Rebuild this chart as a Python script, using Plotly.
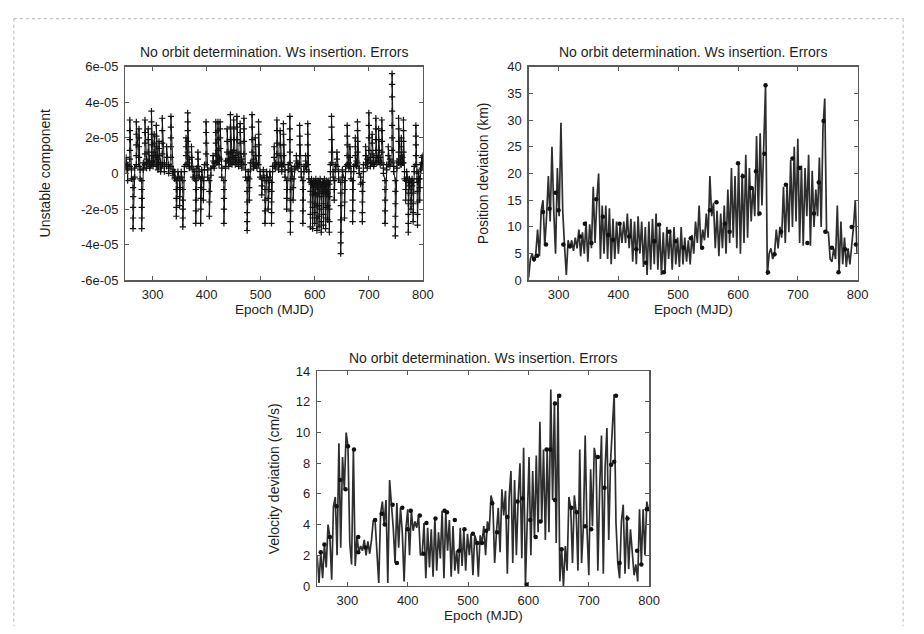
import plotly.graph_objects as go

# ---------------- DATA ----------------
title_text = "No orbit determination. Ws insertion. Errors"
x_title = "Epoch (MJD)"
y_titles = ["Unstable component", "Position deviation (km)", "Velocity deviation (cm/s)"]

epoch_ticks = [300, 400, 500, 600, 700, 800]
unstable_tickvals = [-6e-05, -4e-05, -2e-05, 0, 2e-05, 4e-05, 6e-05]
unstable_ticktext = ["-6e-05", "-4e-05", "-2e-05", "0", "2e-05", "4e-05", "6e-05"]
position_ticks = [0, 5, 10, 15, 20, 25, 30, 35, 40]
velocity_ticks = [0, 2, 4, 6, 8, 10, 12, 14]

# unstable component, (epoch, samples in units of 1e-5)
unstable_segments = [
    (251, [0.6, 0.2, 0.9, 0.4]), (254, [0.3, -0.4, 0.5]),
    (258, [0.4, 0.8, 1.3, 1.9, 2.4, 3.0]), (261, [0.2, -0.3]),
    (264, [-0.3, -0.8, -1.3, -1.9, -2.5, -3.1]), (267, [-0.2, 0.3]),
    (270, [0.5, 1.0, 1.6, 2.2, 2.9]), (275, [0.4, 0.9, 1.5, 2.0, 2.5]),
    (277, [0.2, -0.3]), (280, [-0.4, -0.9, -1.4, -1.9, -2.5, -3.1]),
    (283, [0.3, 0.6, 0.2]), (286, [0.5, 1.1, 1.7, 2.3, 3.0]),
    (289, [0.6, 0.3, 0.8]), (292, [0.6, 1.2, 1.9, 2.5]),
    (295, [0.4, 0.7, 0.3]), (298, [0.5, 1.0, 1.6, 2.2, 2.9, 3.5]),
    (301, [0.7, 0.4, 1.0]), (303, [0.6, 1.2, 1.7, 2.2]),
    (307, [0.4, 0.9, 1.5, 2.1, 2.7]), (310, [0.5, 0.2, 0.8]),
    (312, [0.5, 1.0, 1.4, 1.8]), (315, [0.3, 0.6, 0.1]),
    (318, [0.5, 1.1, 1.7, 2.4, 3.1]), (322, [0.4, 0.1, 0.6]),
    (326, [0.4, 0.9, 1.5]), (330, [0.3, 0.0, 0.5]),
    (334, [0.4, 0.9, 1.5, 2.0, 2.6, 3.2]), (338, [0.2, -0.1, 0.1]),
    (341, [-0.2, 0.1, -0.3]), (344, [-0.4, -0.9, -1.4, -1.9, -2.4]),
    (347, [-0.2, 0.1]), (350, [-0.3, -0.8, -1.3, -1.8]),
    (353, [-0.2, 0.1]), (356, [-0.4, -0.9, -1.5, -2.0, -2.5, -3.0]),
    (359, [0.1, 0.4]), (362, [0.5, 1.0, 1.5, 2.0]),
    (365, [0.6, 1.2, 1.8, 2.4, 2.9, 3.4]), (368, [0.4, 0.8, 0.3]),
    (372, [0.4, 0.9, 1.5]), (375, [0.2, -0.2]), (378, [0.1, -0.3]),
    (380, [-0.4, -0.9, -1.5, -2.1, -2.8]), (382, [-0.1, 0.3]),
    (384, [0.4, 0.8, 1.2]), (386, [0.1, -0.2]),
    (389, [-0.3, -0.8, -1.4, -2.0, -2.8]), (391, [-0.2, 0.2]),
    (394, [-0.4, -0.9, -1.5]), (396, [0.2, 0.5]),
    (399, [0.5, 1.1, 1.7, 2.3, 2.9]), (402, [0.2, -0.2]),
    (405, [-0.4, -1.0, -1.6, -2.4]), (408, [-0.1, 0.3]),
    (412, [0.4, 0.7, 1.0]), (414, [0.3, 0.6]),
    (417, [0.6, 1.1, 1.7, 2.3, 2.9]), (419, [0.6, 1.0]),
    (421, [0.7, 1.3, 1.9, 2.4, 2.9]), (423, [0.5, 0.9]),
    (425, [0.8, 1.4, 2.0, 2.5, 2.9]), (428, [0.3, -0.2]),
    (432, [-0.4, -0.9, -1.4, -2.0, -2.8]), (435, [0.3, 0.7, 0.4]),
    (438, [0.7, 1.2, 1.8, 2.5]), (441, [0.8, 0.4, 1.1]),
    (444, [0.6, 1.2, 1.9, 2.6, 3.3]), (447, [0.9, 0.5, 1.2]),
    (450, [0.7, 1.3, 1.9, 2.5, 3.0]), (453, [0.8, 0.5, 1.0]),
    (456, [0.6, 1.2, 1.9, 2.6, 3.2]), (459, [0.7, 0.4, 0.9]),
    (462, [0.6, 1.1, 1.7, 2.3, 2.8]), (465, [0.5, 0.3, 0.8]),
    (469, [0.5, 1.1, 1.8, 2.5, 3.1]), (472, [0.2, -0.2]),
    (475, [-0.4, -1.0, -1.6, -2.2, -2.7, -3.2]), (477, [-0.2, 0.1]),
    (479, [-0.3, -0.8, -1.5]), (481, [0.2, 0.6]),
    (484, [0.6, 1.2, 1.9, 2.6, 3.3]), (487, [0.4, 0.8, 0.3]),
    (490, [0.5, 1.0, 1.5, 2.0]), (493, [0.3, 0.6]),
    (496, [0.5, 1.0, 1.6, 2.2, 2.9]), (499, [0.1, -0.2]),
    (502, [-0.3, -0.7, -1.2]), (505, [-0.1, 0.2]),
    (508, [-0.4, -0.9, -1.5, -2.1, -2.8]), (511, [-0.2, 0.1]),
    (514, [-0.4, -0.9, -1.4, -2.0]), (517, [-0.2, 0.1]),
    (520, [-0.5, -1.0, -1.6, -2.2, -2.8]), (522, [0.1, 0.4]),
    (525, [0.4, 0.9, 1.5]), (527, [0.3, 0.6]),
    (530, [0.5, 1.1, 1.7, 2.4, 3.0]), (533, [0.5, 0.2]),
    (536, [0.5, 1.0, 1.6, 2.4]), (539, [0.4, 0.1, 0.6]),
    (542, [0.5, 1.0, 1.6, 2.2, 2.8]), (545, [0.2, -0.2]),
    (548, [-0.4, -0.9, -1.4, -2.0]), (551, [0.2, 0.5]),
    (554, [0.6, 1.2, 1.9, 2.5, 3.2]), (555, [-0.3, -0.9, -1.5, -2.1, -2.7, -3.3]),
    (557, [0.1, 0.3]), (560, [-0.3, -0.8, -1.5]),
    (563, [0.2, 0.4]), (566, [0.4, 0.7, 1.0]), (569, [0.3, 0.6]),
    (572, [0.5, 1.0, 1.6, 2.1, 2.7]), (575, [0.1, -0.2]),
    (578, [-0.4, -0.9, -1.5, -2.1, -2.8]), (580, [0.1, 0.4]),
    (583, [0.4, 0.7, 1.0]), (585, [0.2, 0.5]),
    (587, [0.5, 1.0, 1.6, 2.2, 2.8]), (589, [0.1, -0.3]),
    (592, [-0.5, -1.0, -1.6, -2.3, -3.0]), (594, [-0.3, -0.6]),
    (596, [-0.6, -1.2, -1.9, -2.5, -3.1]), (598, [-0.4, -0.8]),
    (600, [-0.5, -1.1, -1.7, -2.2, -2.8]), (602, [-0.3, -0.7]),
    (604, [-0.6, -1.2, -1.8, -2.5, -3.2]), (606, [-0.4, -0.9]),
    (608, [-0.5, -1.1, -1.8, -2.4, -3.0]), (610, [-0.3, -0.8]),
    (612, [-0.6, -1.3, -2.0, -2.7, -3.3]), (614, [-0.5, -1.0]),
    (616, [-0.5, -1.1, -1.7, -2.3, -2.9]), (618, [-0.3, -0.9]),
    (620, [-0.6, -1.2, -1.9, -2.5, -3.1]), (622, [-0.4, -1.0]),
    (624, [-0.5, -1.1, -1.8, -2.6]), (626, [-0.4, -0.9]),
    (627, [-0.6, -1.3, -2.0, -2.7, -3.3]), (629, [0.1, 0.5]),
    (631, [0.6, 1.2, 1.9, 2.6, 3.2]), (634, [0.1, -0.2]),
    (636, [-0.4, -0.9, -1.5]), (638, [0.2, 0.5]),
    (641, [0.4, 0.8, 1.2]), (644, [0.1, -0.3]),
    (648, [-0.5, -1.1, -1.8, -2.6, -3.3, -3.9, -4.5]), (651, [-0.2, 0.2]),
    (655, [-0.4, -0.9, -1.6, -2.5]), (657, [0.1, 0.4]),
    (660, [0.5, 1.0, 1.6, 2.1, 2.7]), (663, [0.3, 0.6]),
    (665, [0.4, 0.9, 1.5]), (667, [0.1, -0.3]),
    (670, [-0.4, -0.9, -1.5, -2.1, -2.7]), (672, [0.1, 0.4]),
    (675, [0.5, 1.0, 1.5, 2.0]), (677, [0.4, 0.7]),
    (679, [0.6, 1.2, 1.8, 2.4, 2.9]), (682, [0.3, 0.0]),
    (685, [-0.2, -0.6]), (688, [-0.5, -1.0, -1.6, -2.2, -2.7]),
    (690, [0.1, 0.5]), (694, [0.5, 1.0, 1.5]), (697, [0.6, 0.3, 0.8]),
    (700, [0.7, 1.3, 2.0, 2.7, 3.4]), (703, [0.6, 0.9, 0.4]),
    (706, [0.6, 1.1, 1.7, 2.2]), (709, [0.5, 0.9, 0.4]),
    (713, [0.7, 1.3, 1.9, 2.5, 3.1]), (715, [0.6, 1.0]),
    (718, [0.7, 1.3, 1.9, 2.5]), (721, [0.5, 0.9]),
    (724, [0.6, 1.2, 1.8, 2.4, 3.0]), (727, [0.3, 0.0]),
    (730, [-0.4, -0.9, -1.5, -2.1, -2.8]), (733, [0.2, 0.5]),
    (736, [0.5, 1.0, 1.5]), (739, [0.4, 0.8]),
    (743, [0.6, 1.3, 2.0, 2.7, 3.5, 4.3, 5.0, 5.6]), (746, [0.4, 0.1]),
    (749, [-0.4, -1.0, -1.7, -2.4, -3.0, -3.5]), (752, [0.3, 0.7]),
    (755, [0.6, 1.2, 1.8, 2.5, 3.1]), (758, [0.5, 0.8]),
    (760, [0.5, 1.0, 1.5, 2.0]), (762, [0.6, 0.9]),
    (764, [0.6, 1.2, 1.8, 2.4, 3.0]), (766, [0.1, -0.3]),
    (768, [-0.4, -0.9, -1.5]), (770, [-0.2, 0.1]),
    (773, [-0.5, -1.1, -1.7, -2.3, -2.8, -3.3]), (775, [-0.3, -0.7]),
    (778, [-0.4, -0.9, -1.5, -2.0]), (780, [-0.3, -0.7]),
    (782, [-0.5, -1.1, -1.7, -2.2, -2.7]), (784, [0.1, 0.4]),
    (787, [0.5, 1.0, 1.6, 2.1, 2.7]), (789, [0.1, -0.3]),
    (790, [-0.5, -1.0, -1.6, -2.3, -2.9]), (792, [-0.3, 0.0]),
    (794, [-0.3, -0.8, -1.5]), (796, [0.2, 0.5]),
    (798, [0.3, 0.6, 0.9]), (800, [0.5, 1.0]),
]

# position deviation (epoch, km)
position_data = [
    (250, 0.5), (253, 4), (256, 5), (259, 3.5), (262, 5), (265, 9.5), (268, 4.5), (271, 13),
    (274, 15), (277, 6.5), (280, 12), (283, 19.5), (286, 11), (289, 25), (292, 13), (295, 5),
    (298, 21), (301, 12), (304, 29.5), (307, 13), (310, 6.5), (313, 1), (316, 7.5), (319, 6),
    (322, 7.5), (325, 5.5), (328, 8), (331, 6), (334, 9.5), (337, 4.5), (340, 9), (343, 5),
    (346, 11), (349, 3.5), (352, 10.5), (355, 6), (358, 17.5), (361, 7), (364, 15), (367, 20),
    (370, 4), (373, 14), (376, 5), (379, 14), (382, 4), (385, 13.5), (388, 3), (391, 11.5),
    (394, 4), (397, 11), (400, 5), (403, 10.5), (406, 7), (409, 11), (412, 7), (415, 12.5),
    (418, 6), (421, 11.5), (424, 3.5), (427, 11), (430, 3), (433, 12), (436, 5), (439, 11),
    (442, 2.5), (445, 10), (448, 1), (451, 11), (454, 2), (457, 11.5), (460, 3), (463, 12.5),
    (466, 2), (469, 10), (472, 1), (475, 9), (478, 1.5), (481, 10), (484, 4), (487, 9.5),
    (490, 2), (493, 10), (496, 3), (499, 8), (502, 2.5), (505, 10), (508, 3), (511, 8),
    (514, 3.5), (517, 7.5), (520, 3), (523, 8.5), (526, 5), (529, 11), (532, 7), (535, 14),
    (538, 6), (541, 9.5), (544, 7.5), (547, 12.5), (550, 8), (553, 19.5), (556, 12), (559, 14.5),
    (562, 6), (565, 13), (568, 4.5), (571, 12.5), (574, 6), (577, 14), (580, 5), (583, 17),
    (586, 7), (589, 21), (592, 8), (595, 19.5), (598, 6), (601, 22), (604, 5), (607, 20),
    (610, 7), (613, 23.5), (616, 8), (619, 21), (622, 11), (625, 17.5), (628, 12), (631, 27),
    (634, 12), (637, 27.5), (640, 14), (643, 24), (646, 36.5), (649, 1), (652, 5), (655, 6),
    (658, 4), (661, 5), (664, 9.5), (667, 6), (670, 10), (673, 8), (676, 17.5), (679, 7),
    (682, 18), (685, 9), (688, 22.5), (691, 10), (694, 25), (697, 11), (700, 26.5), (703, 7),
    (706, 21.5), (709, 6.5), (712, 21), (715, 12), (718, 23.5), (721, 6.5), (724, 20.5), (727, 10),
    (730, 17), (733, 12), (736, 23), (739, 10), (742, 28.5), (745, 34), (748, 9), (751, 9),
    (754, 4), (757, 3.5), (760, 6), (763, 4), (766, 14), (769, 1.5), (772, 11), (775, 3),
    (778, 8), (781, 2.5), (784, 6), (787, 3), (790, 6.5), (793, 10), (796, 15), (799, 5),
]
position_marks = [
    (259, 4.0), (264, 4.6), (274, 12.8), (279, 6.7), (285, 13.4), (295, 16.4), (300, 13.1),
    (308, 6.7), (319, 6.4), (336, 8.2), (344, 10.6), (355, 7.0), (363, 15.2), (374, 11.9),
    (383, 8.5), (391, 7.6), (402, 10.6), (418, 8.2), (430, 5.8), (446, 3.3), (460, 7.3),
    (468, 10.4), (476, 1.5), (485, 9.1), (496, 7.3), (509, 6.1), (521, 7.9), (540, 6.1),
    (553, 13.1), (564, 14.6), (578, 10.6), (586, 9.1), (600, 21.9), (608, 19.5), (622, 17.3),
    (630, 20.4), (636, 12.5), (644, 23.7), (646, 36.5), (650, 1.5), (661, 4.9), (672, 9.1),
    (680, 17.9), (691, 22.8), (703, 21.0), (716, 7.0), (727, 12.5), (735, 18.3), (743, 29.8),
    (746, 9.1), (757, 6.1), (768, 1.5), (779, 5.8), (790, 10.0), (797, 6.7),
]

# velocity deviation (epoch, cm/s)
velocity_data = [
    (250, 2.0), (253, 0.2), (256, 2.2), (259, 0.5), (262, 2.7), (265, 1.2), (268, 4.0), (271, 3.2),
    (274, 0.4), (277, 5.2), (280, 5.8), (283, 2.0), (286, 9.3), (289, 2.5), (292, 8.4), (295, 6.3),
    (298, 10.0), (301, 9.1), (304, 2.8), (307, 1.4), (310, 8.9), (313, 1.3), (316, 3.2), (319, 2.2),
    (322, 2.6), (325, 2.3), (328, 3.0), (331, 2.0), (334, 2.9), (337, 2.1), (340, 3.0), (343, 4.3),
    (346, 4.2), (349, 2.0), (352, 0.2), (355, 4.7), (358, 5.5), (361, 4.0), (364, 5.6), (367, 0.2),
    (370, 6.9), (373, 5.3), (376, 3.8), (379, 1.5), (382, 5.4), (385, 2.5), (388, 5.1), (391, 3.5),
    (394, 0.3), (397, 3.7), (400, 5.0), (403, 2.0), (406, 4.9), (409, 3.6), (412, 4.2), (415, 3.8),
    (418, 4.6), (421, 2.0), (424, 2.1), (427, 4.1), (430, 0.5), (433, 3.8), (436, 1.2), (439, 3.7),
    (442, 0.6), (445, 4.4), (448, 1.0), (451, 3.5), (454, 1.8), (457, 4.9), (460, 0.5), (463, 4.8),
    (466, 2.3), (469, 4.3), (472, 0.6), (475, 3.9), (478, 1.0), (481, 2.3), (484, 0.8), (487, 3.8),
    (490, 1.3), (493, 3.6), (496, 1.0), (499, 3.4), (502, 2.0), (505, 3.4), (508, 0.7), (511, 3.3),
    (514, 2.9), (517, 0.6), (520, 3.3), (523, 2.8), (526, 3.9), (529, 2.0), (532, 4.2), (535, 3.6),
    (538, 5.9), (541, 5.4), (544, 1.5), (547, 3.5), (550, 5.1), (553, 2.2), (556, 6.3), (559, 4.6),
    (562, 6.2), (565, 0.8), (568, 5.8), (571, 7.5), (574, 1.5), (577, 6.9), (580, 2.0), (583, 5.7),
    (586, 8.0), (589, 1.8), (592, 9.0), (595, 0.1), (598, 4.3), (601, 8.4), (604, 2.0), (607, 7.5),
    (610, 3.2), (613, 8.5), (616, 3.5), (619, 10.7), (622, 4.2), (625, 8.9), (628, 3.0), (631, 8.9),
    (634, 3.5), (637, 12.8), (640, 5.6), (643, 12.0), (646, 2.8), (649, 12.5), (652, 0.3), (655, 2.4),
    (658, 0.0), (661, 2.6), (664, 1.0), (667, 5.8), (670, 5.1), (673, 1.5), (676, 5.9), (679, 4.8),
    (682, 1.0), (685, 8.9), (688, 1.5), (691, 3.9), (694, 9.8), (697, 3.7), (700, 0.7), (703, 7.6),
    (706, 3.9), (709, 9.0), (712, 8.3), (715, 1.0), (718, 6.4), (721, 9.8), (724, 0.8), (727, 7.7),
    (730, 10.3), (733, 3.0), (736, 8.1), (739, 10.5), (742, 12.5), (745, 4.1), (748, 1.5), (751, 0.5),
    (754, 4.2), (757, 5.3), (760, 0.8), (763, 4.6), (766, 1.1), (769, 3.7), (772, 2.2), (775, 0.7),
    (778, 1.4), (781, 0.3), (784, 5.0), (787, 1.5), (790, 5.0), (793, 2.0), (796, 5.5), (799, 4.9),
]
velocity_marks = [
    (256, 2.2), (262, 2.7), (271, 3.2), (282, 5.2), (288, 6.9), (297, 6.3), (301, 9.1),
    (311, 8.9), (318, 3.2), (318, 2.2), (330, 2.5), (346, 4.3), (357, 4.7), (362, 4.0),
    (375, 5.3), (382, 1.5), (391, 5.1), (400, 3.7), (405, 4.9), (420, 4.6), (426, 2.1),
    (431, 4.1), (446, 4.4), (461, 4.9), (465, 4.8), (478, 4.3), (485, 2.3), (494, 3.7),
    (508, 3.4), (515, 2.8), (523, 2.8), (530, 3.6), (540, 5.4), (548, 3.5), (565, 4.5),
    (582, 5.5), (590, 5.7), (597, 0.1), (603, 4.3), (612, 3.2), (620, 4.2), (630, 8.9),
    (636, 8.9), (644, 11.9), (644, 5.6), (651, 12.4), (655, 2.4), (671, 5.1), (680, 4.8),
    (694, 3.9), (704, 3.7), (715, 8.4), (726, 6.4), (737, 7.9), (742, 8.1), (745, 12.4),
    (751, 1.5), (764, 4.4), (780, 2.3), (787, 1.4), (796, 5.0), (800, 5.0),
]

# ---------------- derived lists ----------------
unstable_epoch, unstable_value = [], []
for ep, vals in unstable_segments:
    for v in vals:
        unstable_epoch.append(ep)
        unstable_value.append(v * 1e-5)

position_epoch = [p[0] for p in position_data]
position_km = [p[1] for p in position_data]
position_mark_epoch = [p[0] for p in position_marks]
position_mark_km = [p[1] for p in position_marks]
velocity_epoch = [p[0] for p in velocity_data]
velocity_cms = [p[1] for p in velocity_data]
velocity_mark_epoch = [p[0] for p in velocity_marks]
velocity_mark_cms = [p[1] for p in velocity_marks]

# ---------------- FIGURE ----------------
W, H = 924, 634
FONT = "Liberation Sans, Arial, Helvetica, sans-serif"
TXT = "#1e1e1e"
AX = "#5a5a5a"


def px(x):
    return x / W


def py(y):
    return 1 - y / H


fig = go.Figure()

fig.add_trace(go.Scatter(
    x=unstable_epoch, y=unstable_value, mode="lines+markers",
    line=dict(color="#111111", width=1),
    marker=dict(symbol="cross-thin", size=4.5, line=dict(width=1.2, color="#111111")),
    xaxis="x", yaxis="y", showlegend=False, hoverinfo="skip"))

fig.add_trace(go.Scatter(
    x=position_epoch, y=position_km, mode="lines",
    line=dict(color="#2e2e2e", width=1.7),
    xaxis="x2", yaxis="y2", showlegend=False, hoverinfo="skip"))
fig.add_trace(go.Scatter(
    x=position_mark_epoch, y=position_mark_km, mode="markers",
    marker=dict(symbol="circle", size=4.5, color="#111111"),
    xaxis="x2", yaxis="y2", showlegend=False, hoverinfo="skip"))

fig.add_trace(go.Scatter(
    x=velocity_epoch, y=velocity_cms, mode="lines",
    line=dict(color="#2e2e2e", width=1.7),
    xaxis="x3", yaxis="y3", showlegend=False, hoverinfo="skip"))
fig.add_trace(go.Scatter(
    x=velocity_mark_epoch, y=velocity_mark_cms, mode="markers",
    marker=dict(symbol="circle", size=4.5, color="#111111"),
    xaxis="x3", yaxis="y3", showlegend=False, hoverinfo="skip"))

base_axis = dict(
    showgrid=False, zeroline=False, showline=True, linecolor=AX, linewidth=1.4,
    mirror="allticks", ticks="inside", ticklen=4, tickcolor=AX, tickwidth=1,
    tickfont=dict(family=FONT, size=13, color=TXT), fixedrange=True,
)

boxes = {
    1: (127, 428, 61, 280),
    2: (535, 868, 61, 280),
    3: (321, 657, 373, 593),
}

layout_axes = {}
for i, (l, r, t, b) in boxes.items():
    suffix = "" if i == 1 else str(i)
    layout_axes["xaxis" + suffix] = dict(
        base_axis, domain=[px(l), px(r)], range=[250, 800],
        tickvals=epoch_ticks, ticklabelstandoff=2, anchor="y" + suffix)

layout_axes["yaxis"] = dict(base_axis, domain=[py(280), py(61)], range=[-6e-05, 6e-05],
                            tickvals=unstable_tickvals, ticktext=unstable_ticktext,
                            ticklabelstandoff=3, anchor="x")
layout_axes["yaxis2"] = dict(base_axis, domain=[py(280), py(61)], range=[0, 40],
                             tickvals=position_ticks, ticklabelstandoff=3, anchor="x2")
layout_axes["yaxis3"] = dict(base_axis, domain=[py(593), py(373)], range=[0, 14],
                             tickvals=velocity_ticks, ticklabelstandoff=3, anchor="x3")

annotations = []
title_pos = [(277.5, 46), (701.5, 46), (489, 359)]
xtitle_pos = [(277.5, 310), (701.5, 310), (489, 623)]
ytitle_pos = [(46, 170), (489, 170), (277, 483)]
for k in range(3):
    annotations.append(dict(text=title_text, x=px(title_pos[k][0]), y=py(title_pos[k][1]),
                            xref="paper", yref="paper", showarrow=False,
                            xanchor="center", yanchor="middle",
                            font=dict(family=FONT, size=14, color=TXT)))
    annotations.append(dict(text=x_title, x=px(xtitle_pos[k][0]), y=py(xtitle_pos[k][1]),
                            xref="paper", yref="paper", showarrow=False,
                            xanchor="center", yanchor="middle",
                            font=dict(family=FONT, size=13.5, color=TXT)))
    annotations.append(dict(text=y_titles[k], x=px(ytitle_pos[k][0]), y=py(ytitle_pos[k][1]),
                            xref="paper", yref="paper", showarrow=False, textangle=-90,
                            xanchor="center", yanchor="middle",
                            font=dict(family=FONT, size=14, color=TXT)))

border = dict(color="#b5b5b5", width=1, dash="dot")
shapes = [
    dict(type="line", xref="paper", yref="paper", x0=px(14), x1=px(914), y0=py(12), y1=py(12), line=border),
    dict(type="line", xref="paper", yref="paper", x0=px(14), x1=px(14), y0=py(12), y1=0, line=border),
    dict(type="line", xref="paper", yref="paper", x0=px(914), x1=px(914), y0=py(12), y1=0, line=border),
]

fig.update_layout(
    width=W, height=H, margin=dict(l=0, r=0, t=0, b=0),
    paper_bgcolor="white", plot_bgcolor="white",
    annotations=annotations, shapes=shapes, showlegend=False,
    hovermode=False,
    **layout_axes,
)

# drop the default 8px page margin so the 924x634 figure fills the window exactly
fig.write_html(
    "out.html",
    config={"displayModeBar": False, "staticPlot": True},
    post_script="document.body.style.margin='0px';document.documentElement.style.overflow='hidden';",
)
